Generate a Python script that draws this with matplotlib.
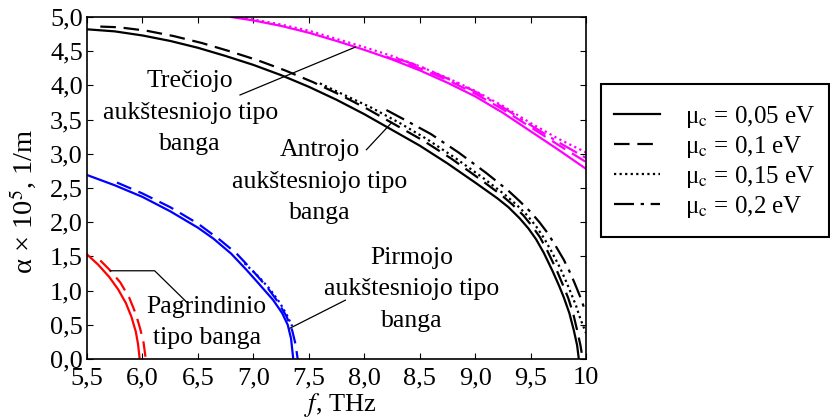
import matplotlib
matplotlib.use("Agg")
import matplotlib.pyplot as plt
from matplotlib.patches import Rectangle

plt.rcParams['font.family'] = ['Liberation Serif', 'DejaVu Serif']
plt.rcParams['mathtext.fontset'] = 'stix'

# ---- data ----
legend_labels = ['μ$_\\mathrm{c}$ = 0,05 eV', 'μ$_\\mathrm{c}$ = 0,1 eV',
                 'μ$_\\mathrm{c}$ = 0,15 eV', 'μ$_\\mathrm{c}$ = 0,2 eV']

# Pagrindinio (red)
red_s_f = [5.5, 5.6, 5.7, 5.78, 5.85, 5.9, 5.94, 5.96, 5.975]
red_s_a = [1.53, 1.38, 1.20, 1.02, 0.82, 0.62, 0.40, 0.22, 0.0]
red_d_f = [5.62, 5.7, 5.8, 5.88, 5.94, 5.98, 6.01, 6.03]
red_d_a = [1.44, 1.31, 1.12, 0.90, 0.66, 0.44, 0.24, 0.0]

# Pirmojo (blue)
blue_s_f = [5.5, 5.75, 6.0, 6.25, 6.5, 6.64, 6.8, 6.94, 7.05, 7.18, 7.26, 7.31, 7.34, 7.36]
blue_s_a = [2.69, 2.54, 2.37, 2.16, 1.92, 1.76, 1.54, 1.30, 1.10, 0.86, 0.67, 0.50, 0.30, 0.0]
blue_d_f = [5.77, 6.0, 6.25, 6.5, 6.7, 6.85, 7.0, 7.12, 7.22, 7.3, 7.35, 7.38, 7.4]
blue_d_a = [2.58, 2.42, 2.22, 1.98, 1.74, 1.54, 1.28, 1.06, 0.84, 0.62, 0.42, 0.22, 0.0]
blue_o_f = [6.92, 7.05, 7.15, 7.24, 7.3, 7.35]
blue_o_a = [1.40, 1.20, 1.02, 0.82, 0.65, 0.48]

# Antrojo (black)
bk_s_f = [5.5, 5.75, 6.0, 6.25, 6.5, 6.75, 7.0, 7.25, 7.5, 7.75, 8.0, 8.25, 8.5,
          8.75, 9.0, 9.2, 9.3, 9.4, 9.48, 9.55, 9.62, 9.7, 9.76, 9.8, 9.85, 9.89, 9.92, 9.935]
bk_s_a = [4.82, 4.79, 4.73, 4.65, 4.55, 4.43, 4.30, 4.15, 3.98, 3.79, 3.58, 3.35, 3.12,
          2.86, 2.58, 2.35, 2.22, 2.06, 1.91, 1.75, 1.55, 1.28, 1.06, 0.90, 0.67, 0.42, 0.20, 0.0]
bk_d_f = [5.62, 5.785, 6.035, 6.285, 6.535, 6.785, 7.035, 7.285, 7.535, 7.785, 8.035,
          8.285, 8.535, 8.785, 9.035, 9.235, 9.335, 9.435, 9.515, 9.585, 9.655, 9.735,
          9.795, 9.84, 9.885, 9.92, 9.95, 9.97]
bk_d_a = [4.86, 4.85, 4.80, 4.72, 4.62, 4.50, 4.37, 4.22, 4.05, 3.86, 3.65,
          3.42, 3.19, 2.93, 2.64, 2.40, 2.26, 2.10, 1.94, 1.78, 1.57, 1.30,
          1.07, 0.89, 0.66, 0.42, 0.20, 0.0]
bk_o_f = [7.6, 7.82, 8.07, 8.32, 8.57, 8.82, 9.07, 9.27, 9.37, 9.47, 9.55, 9.62,
          9.69, 9.77, 9.83, 9.87, 9.91, 9.94, 9.97, 10.0]
bk_o_a = [4.03, 3.86, 3.67, 3.45, 3.21, 2.94, 2.65, 2.40, 2.26, 2.10, 1.94, 1.77,
          1.57, 1.32, 1.10, 0.94, 0.78, 0.63, 0.50, 0.38]
bk_dd_f = [8.2, 8.35, 8.6, 8.85, 9.1, 9.3, 9.4, 9.5, 9.58, 9.65, 9.72, 9.8, 9.86,
           9.9, 9.95, 10.0]
bk_dd_a = [3.64, 3.51, 3.29, 3.02, 2.72, 2.46, 2.31, 2.15, 2.00, 1.85, 1.67, 1.45, 1.25,
           1.10, 0.90, 0.67]

# Trečiojo (magenta)
mg_s_f = [6.8, 7.0, 7.25, 7.5, 7.75, 8.0, 8.25, 8.5, 8.75, 9.0, 9.25, 9.5, 9.75, 10.0]
mg_s_a = [5.0, 4.95, 4.87, 4.77, 4.65, 4.52, 4.38, 4.22, 4.04, 3.84, 3.60, 3.33, 3.06, 2.78]
mg_o_f = [6.88, 7.25, 7.5, 7.75, 8.0, 8.25, 8.5, 8.75, 9.0, 9.25, 9.5, 9.75, 10.0]
mg_o_a = [5.0, 4.89, 4.80, 4.68, 4.56, 4.43, 4.28, 4.11, 3.92, 3.70, 3.45, 3.22, 3.02]
mg_d_f = [8.2, 8.5, 8.75, 9.0, 9.25, 9.5, 9.75, 10.0]
mg_d_a = [4.42, 4.25, 4.08, 3.88, 3.65, 3.39, 3.13, 2.88]
mg_dd_f = [8.3, 8.5, 8.75, 9.0, 9.25, 9.5, 9.75, 10.0]
mg_dd_a = [4.39, 4.28, 4.10, 3.91, 3.68, 3.42, 3.17, 2.94]

xticks = [5.5, 6.0, 6.5, 7.0, 7.5, 8.0, 8.5, 9.0, 9.5, 10.0]
xticklabels = ['5,5', '6,0', '6,5', '7,0', '7,5', '8,0', '8,5', '9,0', '9,5', '10']
yticks = [0.0, 0.5, 1.0, 1.5, 2.0, 2.5, 3.0, 3.5, 4.0, 4.5, 5.0]
yticklabels = ['0,0', '0,5', '1,0', '1,5', '2,0', '2,5', '3,0', '3,5', '4,0', '4,5', '5,0']

# ---- figure ----
W, H = 830, 419
fig = plt.figure(figsize=(W / 100, H / 100), dpi=100)
L, R, T, B = 87, 586, 17, 359
ax = fig.add_axes([L / W, 1 - B / H, (R - L) / W, (B - T) / H])

lw = 1.6
ls_d = (0, (7, 3.5))
ls_o = (0, (1, 1.5))
ls_dd = (0, (9, 3, 1.5, 3))

ax.plot(red_s_f, red_s_a, color='#ff0000', lw=lw)
ax.plot(red_d_f, red_d_a, color='#ff0000', lw=lw, linestyle=ls_d)

ax.plot(blue_s_f, blue_s_a, color='#0000ff', lw=lw)
ax.plot(blue_d_f, blue_d_a, color='#0000ff', lw=lw, linestyle=ls_d)
ax.plot(blue_o_f, blue_o_a, color='#0000ff', lw=lw, linestyle=ls_o)

h1, = ax.plot(bk_s_f, bk_s_a, color='black', lw=lw)
h2, = ax.plot(bk_d_f, bk_d_a, color='black', lw=lw, linestyle=ls_d)
h3, = ax.plot(bk_o_f, bk_o_a, color='black', lw=lw, linestyle=ls_o)
h4, = ax.plot(bk_dd_f, bk_dd_a, color='black', lw=lw, linestyle=ls_dd)

ax.plot(mg_s_f, mg_s_a, color='#ff00ff', lw=lw)
ax.plot(mg_o_f, mg_o_a, color='#ff00ff', lw=lw, linestyle=ls_o)
ax.plot(mg_d_f, mg_d_a, color='#ff00ff', lw=lw, linestyle=ls_d)
ax.plot(mg_dd_f, mg_dd_a, color='#ff00ff', lw=lw, linestyle=ls_dd)

ax.set_xlim(5.5, 10.0)
ax.set_ylim(0.0, 5.0)
ax.set_xticks(xticks)
ax.set_xticklabels(xticklabels)
ax.set_yticks(yticks)
ax.set_yticklabels(yticklabels)
ax.tick_params(direction='in', length=4, width=0.8, labelsize=19,
               top=True, right=True, colors='black')
ax.tick_params(axis='y', pad=3)
ax.tick_params(axis='x', pad=6)
for s in ax.spines.values():
    s.set_linewidth(1.2)

ax.set_xlabel('$f$, THz', fontsize=19)
ax.set_ylabel('α × 10$^5$, 1/m', fontsize=20.5)
ax.xaxis.set_label_coords(0.507, -0.095)
ax.yaxis.set_label_coords(-0.098, 0.462)

# annotations
fs = 18.5
ax.text(6.43, 3.60, 'Trečiojo\naukštesniojo tipo\nbanga', ha='center', va='center',
        fontsize=fs, linespacing=1.55, zorder=5)
ax.text(7.60, 2.59, 'Antrojo\naukštesniojo tipo\nbanga', ha='center', va='center',
        fontsize=fs, linespacing=1.55, zorder=5)
ax.text(8.43, 1.02, 'Pirmojo\naukštesniojo tipo\nbanga', ha='center', va='center',
        fontsize=fs, linespacing=1.55, zorder=5)
ax.text(6.58, 0.53, 'Pagrindinio\ntipo banga', ha='center', va='center',
        fontsize=fs, linespacing=1.5, zorder=5)

lk = dict(color='black', lw=0.9)
ax.plot([6.88, 7.92], [3.86, 4.56], **lk)
ax.plot([8.02, 8.25], [3.06, 3.46], **lk)
ax.plot([7.33, 7.83], [0.45, 0.86], **lk)
ax.plot([5.71, 6.11, 6.40], [1.29, 1.29, 0.83], **lk)

# legend box
box = Rectangle((601 / W, 1 - 237 / H), (829 - 601) / W, (237 - 84) / H,
                transform=fig.transFigure, fill=False, edgecolor='black', lw=1.5)
fig.patches.append(box)
leg = fig.legend([h1, h2, h3, h4], legend_labels, loc='upper left',
                 bbox_to_anchor=(614 / W, 1 - 104 / H), frameon=False,
                 fontsize=18, handlelength=1.85, handletextpad=1.0,
                 labelspacing=0.16, borderpad=0, borderaxespad=0)

fig.savefig('out.png', dpi=100)
